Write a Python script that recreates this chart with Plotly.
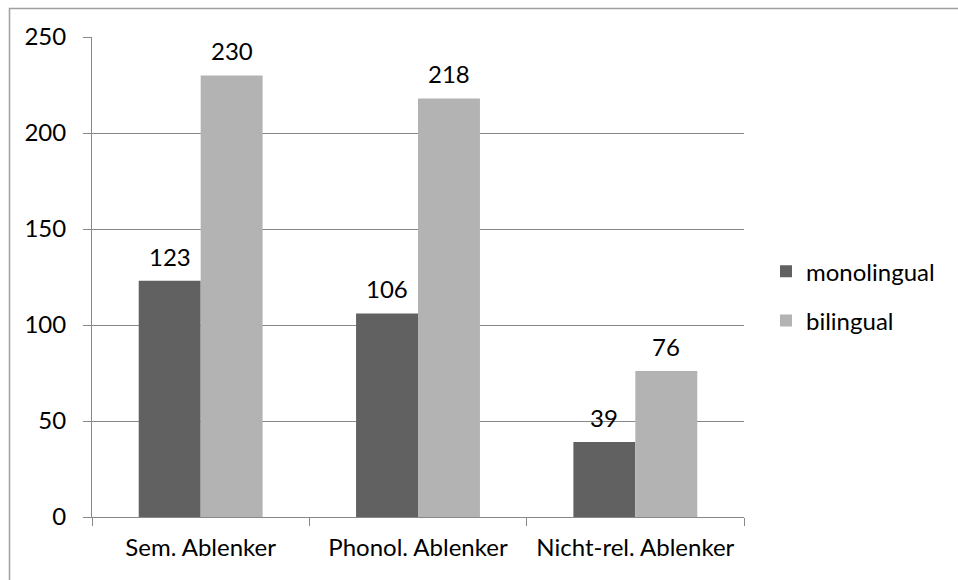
import plotly.graph_objects as go

categories = ["Sem. Ablenker", "Phonol. Ablenker", "Nicht-rel. Ablenker"]
monolingual = [123, 106, 39]
bilingual = [230, 218, 76]
y_ticks = [0, 50, 100, 150, 200, 250]

FONT = "Lato"
FS = 24
GRID = "#888888"
C_MONO = "#616161"
C_BI = "#b3b3b3"

fig = go.Figure()
fig.add_trace(go.Bar(name="monolingual", x=categories, y=monolingual,
                     marker=dict(color=C_MONO, line=dict(width=0)),
                     legendgroup="a"))
fig.add_trace(go.Bar(name="bilingual", x=categories, y=bilingual,
                     marker=dict(color=C_BI, line=dict(width=0)),
                     legendgroup="b"))

bargap = 0.43
half = (1 - bargap) / 4
for i in range(len(categories)):
    for val, off in ((monolingual[i], -half), (bilingual[i], half)):
        fig.add_annotation(x=i + off, y=val, text=str(val), showarrow=False,
                           yanchor="bottom", yshift=8,
                           font=dict(family=FONT, size=FS, color="#000000"))

fig.update_layout(
    width=958, height=580,
    margin=dict(l=92, r=214, t=37, b=63),
    paper_bgcolor="white", plot_bgcolor="white",
    barmode="group", bargap=bargap, bargroupgap=0,
    font=dict(family=FONT, size=FS, color="#000000"),
    showlegend=True,
    legend=dict(x=(766 - 92) / 652, y=0.46, xanchor="left", yanchor="middle",
                traceorder="grouped", tracegroupgap=15,
                font=dict(family=FONT, size=FS, color="#000000"),
                itemwidth=30, bgcolor="rgba(0,0,0,0)"),
    xaxis=dict(type="category", showline=True, linecolor=GRID, linewidth=1,
               ticks="outside", tickson="boundaries", ticklen=8, tickcolor=GRID,
               showgrid=False, ticklabelstandoff=9,
               tickfont=dict(family=FONT, size=FS)),
    yaxis=dict(range=[0, 250], tickvals=y_ticks, showline=True, linecolor=GRID,
               linewidth=1, ticks="outside", ticklen=8, tickcolor=GRID,
               showgrid=True, gridcolor=GRID, gridwidth=1, zeroline=False,
               ticklabelstandoff=12, tickfont=dict(family=FONT, size=FS)),
    shapes=[dict(type="rect", xref="paper", yref="paper",
                 x0=(9.5 - 92) / 652, x1=1.5, y0=-0.5, y1=(517 - 8.5) / 480,
                 line=dict(color="#a0a0a0", width=1.5), fillcolor="rgba(0,0,0,0)",
                 layer="below")],
)

fig.write_html("out.html")
